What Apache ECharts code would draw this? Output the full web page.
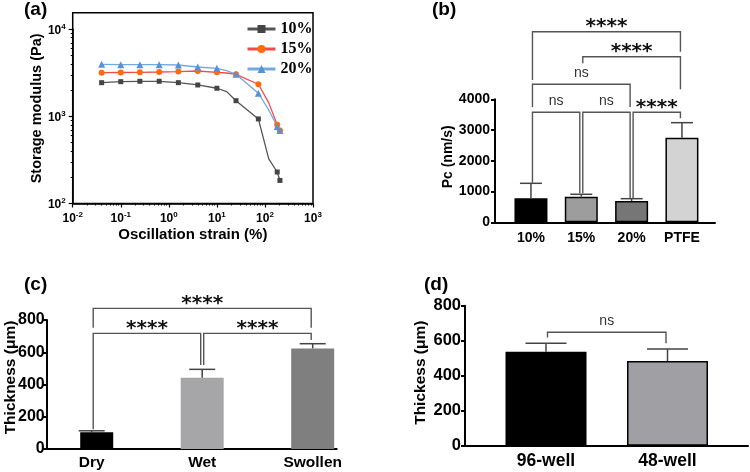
<!DOCTYPE html>
<html><head><meta charset="utf-8">
<script src="https://cdn.jsdelivr.net/npm/echarts@6/dist/echarts.min.js"></script>
<style>html,body{margin:0;padding:0;background:#fff}#chart{width:750px;height:472px}</style>
</head><body><div id="chart"></div>
<script>
// ---------- Panel (a): storage modulus vs oscillation strain ----------
const strainPct   = [0.04, 0.1, 0.25, 0.63, 1.58, 4.0, 10, 16, 25, 73, 120, 180, 205];
const pointMarked = [1, 1, 1, 1, 1, 1, 1, 0, 1, 1, 0, 1, 1];
const modulus10   = [2440, 2505, 2530, 2530, 2440, 2295, 2105, 1925, 1515, 935, 325, 230, 184];
const modulus15   = [3175, 3190, 3205, 3235, 3275, 3320, 3205, 3150, 3040, 2340, 1430, 800, 687];
const modulus20   = [3960, 3920, 3920, 3920, 3890, 3690, 3565, 3350, 3040, 1845, 1186, 765, 687];
const legendA     = ['10%', '15%', '20%'];

// ---------- Panel (b): Pc ----------
const catsB  = ['10%', '15%', '20%', 'PTFE'];
const meanB  = [780, 833, 693, 2751];
const sdB    = [488, 78, 75, 489];
// [left cat, right cat, bracket level, left leg bottom, right leg bottom, label]
const compB  = [
  [0, 1, 3577, 1290, 945, 'ns'],
  [1, 2, 3577, 945, 790, 'ns'],
  [2, 3, 3577, 790, 3385, '****'],
  [0, 2, 4488, 3750, 3750, 'ns'],
  [1, 3, 5385, 5170, 4325, '****'],
  [0, 3, 6198, 4628, 5548, '****']
];

// ---------- Panel (c): thickness ----------
const catsC = ['Dry', 'Wet', 'Swollen'];
const meanC = [104, 442, 624];
const sdC   = [9, 52, 29];
const compC = [
  [0, 2, 872, 752, 752, '****'],
  [0, 1, 717, 122, 521, '****'],
  [1, 2, 717, 521, 676, '****']
];

// ---------- Panel (d): thickness by well plate ----------
const catsD = ['96-well', '48-well'];
const meanD = [537, 484];
const sdD   = [48, 69];
const compD = [[0, 1, 648, 619, 585, 'ns']];

// ---------- styling ----------
const SANS = '"Liberation Sans", Arial, sans-serif';
const SERIF = '"Liberation Serif", "Times New Roman", serif';
const chart = echarts.init(document.getElementById('chart'), null, {renderer: 'canvas'});

function powLabel(v) {
  const n = Math.round(Math.log10(v));
  if (Math.abs(Math.log10(v) - n) > 1e-6) return '';
  return '{b|10}{s|' + n + '}';
}
const powRich = {
  b: {fontSize: 12, fontWeight: 'bold', fontFamily: SANS, color: '#000', verticalAlign: 'bottom'},
  s: {fontSize: 8, fontWeight: 'bold', fontFamily: SANS, color: '#000', verticalAlign: 'bottom', padding: [0, 0, 6, 0]}
};

function lineSeries(name, values, symbol, size, lineColor, markColor) {
  return {
    name, type: 'line', xAxisIndex: 1, yAxisIndex: 1,
    symbol, symbolSize: size, showSymbol: true,
    lineStyle: {color: lineColor, width: 1.3},
    itemStyle: {color: markColor},
    data: strainPct.map((x, i) => ({value: [x, values[i]], symbol: pointMarked[i] ? symbol : 'none'})),
    z: 3
  };
}

function frameAxes(gi, yMax, yInt, yName, nameGap, labelSize, nameSize, labelMargin, namePad) {
  return {
    x: {type: 'value', gridIndex: gi, min: 0, max: 1,
        axisLine: {show: true, onZero: false, lineStyle: {color: '#000', width: 2}},
        axisTick: {show: false}, axisLabel: {show: false}, splitLine: {show: false}},
    y: {type: 'value', gridIndex: gi, min: 0, max: yMax, interval: yInt,
        name: yName, nameLocation: 'middle', nameGap: nameGap, nameRotate: 90, nameMoveOverlap: false,
        nameTextStyle: {fontFamily: SANS, fontWeight: 'bold', fontSize: nameSize, color: '#000', padding: [0, 0, 0, namePad]},
        axisLine: {show: true, onZero: false, lineStyle: {color: '#000', width: 2}},
        axisTick: {show: true, inside: false, length: 4, lineStyle: {color: '#000', width: 2}},
        axisLabel: {show: true, margin: labelMargin, formatter: v => String(v),
                    fontFamily: SANS, fontWeight: 'bold', fontSize: labelSize, color: '#000'},
        splitLine: {show: false}}
  };
}
function innerAxes(gi, cats, yMax, labelSize, labelMargin) {
  return {
    x: {type: 'category', gridIndex: gi, data: cats,
        axisLine: {show: false}, axisTick: {show: false},
        axisLabel: {interval: 0, margin: labelMargin, fontFamily: SANS, fontWeight: 'bold', fontSize: labelSize, color: '#000'},
        splitLine: {show: false}},
    y: {type: 'value', gridIndex: gi, min: 0, max: yMax, show: false, splitLine: {show: false}}
  };
}

function errorSeries(axisIdx, means, sds, capW) {
  return {
    type: 'custom', xAxisIndex: axisIdx, yAxisIndex: axisIdx, clip: false, silent: true, z: 4,
    encode: {x: 0, y: 1},
    data: means.map((m, i) => [i, m, sds[i]]),
    renderItem: (params, api) => {
      const i = api.value(0), m = api.value(1), s = api.value(2);
      const p0 = api.coord([i, m]), p1 = api.coord([i, m + s]);
      const st = {stroke: '#444', lineWidth: 1.5};
      return {type: 'group', children: [
        {type: 'line', shape: {x1: p0[0], y1: p0[1], x2: p1[0], y2: p1[1]}, style: st},
        {type: 'line', shape: {x1: p1[0] - capW / 2, y1: p1[1], x2: p1[0] + capW / 2, y2: p1[1]}, style: st}
      ]};
    }
  };
}

function bracketSeries(axisIdx, comps) {
  return {
    type: 'custom', xAxisIndex: axisIdx, yAxisIndex: axisIdx, clip: false, silent: true, z: 5,
    encode: {x: 0, y: 1},
    data: comps.map(c => [c[0], c[2]]),
    renderItem: (params, api) => {
      const c = comps[params.dataIndex];
      const pL = api.coord([c[0], c[2]]), pR = api.coord([c[1], c[2]]);
      const bL = api.coord([c[0], c[3]]), bR = api.coord([c[1], c[4]]);
      const xl = pL[0] + 1.5, xr = pR[0] - 1.5;
      const star = c[5] !== 'ns';
      const ty = pL[1] - (star ? 5 : 11);
      return {type: 'group', children: [
        {type: 'polyline', shape: {points: [[xl, bL[1]], [xl, pL[1]], [xr, pR[1]], [xr, bR[1]]]},
         style: {stroke: '#555', lineWidth: 1.4, fill: 'none'}},
        {type: 'text', style: {text: c[5], x: (xl + xr) / 2, y: ty,
          align: 'center', verticalAlign: 'middle', textAlign: 'center', textVerticalAlign: 'middle',
          font: star ? 'bold 20px "DejaVu Sans", sans-serif' : '14px "Liberation Sans", Arial, sans-serif',
          fill: star ? '#111' : '#333'}}
      ]};
    }
  };
}

const fb = frameAxes(2, 4000, 1000, 'Pc (nm/s)', 40, 14, 14, 5, 8);
const ib = innerAxes(3, catsB, 4000, 14, 9);
const fc = frameAxes(4, 800, 200, 'Thickness (μm)', 28, 16, 15.5, 2, 14);
const ic = innerAxes(5, catsC, 800, 15.5, 6);
const fd = frameAxes(6, 800, 200, 'Thickess (μm)', 36, 16.5, 15.5, 4, 6);
const id = innerAxes(7, catsD, 800, 17.5, 6);

const titleStyle = {fontFamily: SANS, fontWeight: 'bold', fontSize: 19, color: '#000'};

const option = {
  animation: false,
  backgroundColor: '#fff',
  title: [
    {text: '(a)', left: 24, top: 0, padding: 0, textStyle: titleStyle},
    {text: '(b)', left: 432, top: 0, padding: 0, textStyle: titleStyle},
    {text: '(c)', left: 24, top: 275, padding: 0, textStyle: titleStyle},
    {text: '(d)', left: 424, top: 275, padding: 0, textStyle: titleStyle}
  ],
  legend: {
    data: legendA, orient: 'vertical', left: 241, top: 16,
    itemWidth: 28, itemHeight: 10, itemGap: 4,
    lineStyle: {width: 3},
    textStyle: {fontFamily: SERIF, fontWeight: 'bold', fontSize: 16, color: '#000'}
  },
  grid: [
    {left: 72.7, top: 12.7, width: 240.3, height: 190.8, show: true, borderColor: '#000', borderWidth: 1.5, backgroundColor: 'transparent', outerBoundsMode: 'none'},
    {left: 72.7, top: 29.3, width: 240.3, height: 174.2, outerBoundsMode: 'none'},
    {left: 495, top: 99.3, width: 220, height: 123, outerBoundsMode: 'none'},
    {left: 505.8, top: 99.3, width: 201.3, height: 123, outerBoundsMode: 'none'},
    {left: 46.7, top: 320, width: 290, height: 129, outerBoundsMode: 'none'},
    {left: 36.45, top: 320, width: 331.5, height: 129, outerBoundsMode: 'none'},
    {left: 465, top: 305.7, width: 283, height: 140, outerBoundsMode: 'none'},
    {left: 485.25, top: 305.7, width: 243, height: 140, outerBoundsMode: 'none'}
  ],
  xAxis: [
    {type: 'value', gridIndex: 0, show: false},
    {type: 'log', gridIndex: 1, min: 0.01, max: 1000, logBase: 10,
     name: 'Oscillation strain (%)', nameLocation: 'middle', nameGap: 24, nameMoveOverlap: false,
     nameTextStyle: {fontFamily: SANS, fontWeight: 'bold', fontSize: 15, color: '#000'},
     axisLine: {show: true, onZero: false, lineStyle: {color: '#000', width: 1.5}},
     axisTick: {show: true, length: 4, lineStyle: {color: '#000', width: 1.2}},
     minorTick: {show: true, splitNumber: 9, length: 2, lineStyle: {color: '#000', width: 1}},
     axisLabel: {margin: 7, formatter: powLabel, rich: powRich},
     splitLine: {show: false}, minorSplitLine: {show: false}},
    fb.x, ib.x, fc.x, ic.x, fd.x, id.x
  ],
  yAxis: [
    {type: 'value', gridIndex: 0, show: false},
    {type: 'log', gridIndex: 1, min: 100, max: 10000, logBase: 10,
     name: 'Storage modulus (Pa)', nameLocation: 'middle', nameGap: 28, nameRotate: 90, nameMoveOverlap: false,
     nameTextStyle: {fontFamily: SANS, fontWeight: 'bold', fontSize: 14.5, color: '#000', padding: [0, 0, 0, 16]},
     axisLine: {show: true, onZero: false, lineStyle: {color: '#000', width: 1.5}},
     axisTick: {show: true, length: 4, lineStyle: {color: '#000', width: 1.2}},
     minorTick: {show: true, splitNumber: 9, length: 2, lineStyle: {color: '#000', width: 1}},
     axisLabel: {margin: 7, formatter: powLabel, rich: powRich},
     splitLine: {show: false}, minorSplitLine: {show: false}},
    fb.y, ib.y, fc.y, ic.y, fd.y, id.y
  ],
  series: [
    lineSeries('10%', modulus10, 'rect', 5, '#555555', '#454545'),
    lineSeries('15%', modulus15, 'circle', 6, '#f24b4b', '#ff6a0d'),
    lineSeries('20%', modulus20, 'triangle', 7, '#72a9de', '#5592d6'),

    {type: 'bar', xAxisIndex: 3, yAxisIndex: 3, barWidth: 33, z: 2,
     itemStyle: {borderColor: '#000', borderWidth: 1.5},
     data: meanB.map((v, i) => ({value: v, itemStyle: {color: ['#000000', '#9d9d9d', '#767676', '#d3d3d3'][i]}}))},
    errorSeries(3, meanB, sdB, 22),
    bracketSeries(3, compB),

    {type: 'bar', xAxisIndex: 5, yAxisIndex: 5, barWidth: 43, barGap: '-76.7%', z: 2,
     data: meanC.map((v, i) => i === 0 ? '-' : {value: v, itemStyle: {color: ['#000', '#a6a6a9', '#7f7f7f'][i]}})},
    {type: 'bar', xAxisIndex: 5, yAxisIndex: 5, barWidth: 33, barGap: '-76.7%', z: 2,
     data: meanC.map((v, i) => i === 0 ? {value: v, itemStyle: {color: '#000'}} : '-')},
    errorSeries(5, meanC, sdC, 26),
    bracketSeries(5, compC),

    {type: 'bar', xAxisIndex: 7, yAxisIndex: 7, barWidth: 81, z: 2,
     itemStyle: {borderColor: '#000', borderWidth: 1.5},
     data: meanD.map((v, i) => ({value: v, itemStyle: {color: ['#000000', '#a0a0a4'][i]}}))},
    errorSeries(7, meanD, sdD, 41),
    bracketSeries(7, compD)
  ]
};
chart.setOption(option);
</script>
</body></html>
